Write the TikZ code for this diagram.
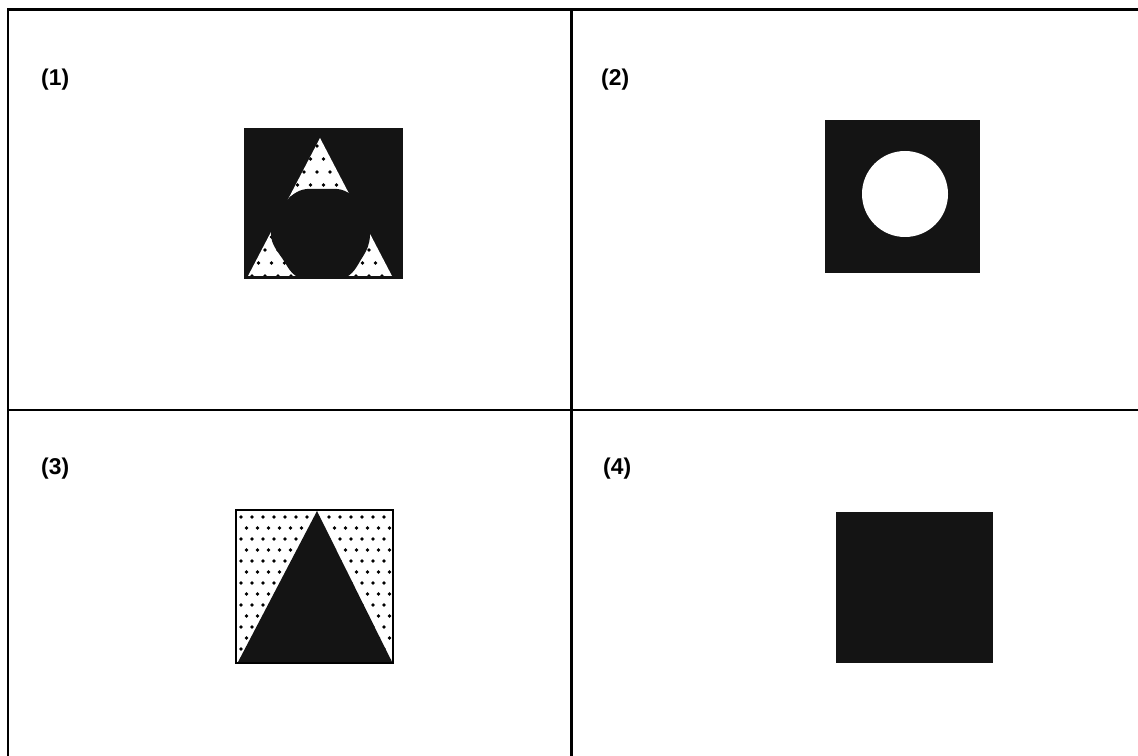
\documentclass[tikz,border=0pt]{standalone}
\usepackage{fontspec}
\setmainfont{Liberation Sans}
% staggered dots over a box: x0, y0, columns, rows, spacing
\newcommand{\dotfield}[5]{%
  \foreach \j in {0,...,#4}
    \foreach \i in {0,...,#3}
      \fill ({#1+#5*\i+#5/2*mod(\j,2)},{#2+#5*\j}) circle[radius=1.9];}
\begin{document}
\begin{tikzpicture}[x=0.02cm,y=-0.02cm,
    frame/.style={line width=1.7pt,line cap=rect},
    lab/.style={font=\bfseries\fontsize{13}{15}\selectfont,anchor=west},
    ink/.style={fill=black!92}]
  \useasboundingbox (0,0) rectangle (1138,756);
  % grid
  \draw[frame] (8,756) -- (8,10) -- (1138,10);
  \draw[frame] (571,10) -- (571,756);
  \draw[frame] (8,410) -- (1138,410);
  % labels
  \node[lab] (lab1) at (35,80) {(1)};
  \node[lab] (lab2) at (595,80) {(2)};
  \node[lab] (lab3) at (35,469) {(3)};
  \node[lab] (lab4) at (597,469) {(4)};
  % (1) square, dotted triangle, round blot on top
  \fill[ink] (244,128) rectangle (403,279);
  \fill[white] (320,138) -- (248,276) -- (392,276) -- cycle;
  \begin{scope}
    \clip (320,138) -- (248,276) -- (392,276) -- cycle;
    \dotfield{252}{146}{11}{10}{13}
  \end{scope}
  \begin{scope}
    \clip (244,128) rectangle (403,276);
    \fill[ink] plot[smooth cycle,tension=0.7] coordinates {(322,189) (347,192)
      (364,212) (370,235) (362,258) (342,279) (302,279) (282,258) (271,235)
      (279,212) (297,192)};
  \end{scope}
  % (2) square with hole
  \fill[ink] (825,120) rectangle (980,273);
  \fill[white] (905,194) circle[radius=43];
  % (3) dotted square, black triangle
  \begin{scope}
    \clip (236,510) rectangle (393,663);
    \dotfield{241}{517}{14}{14}{11}
  \end{scope}
  \draw[line width=1.5pt] (236,510) rectangle (393,663);
  \fill[ink] (317,511) -- (238,662) -- (392,662) -- cycle;
  % (4) plain square
  \fill[ink] (836,512) rectangle (993,663);
\end{tikzpicture}
\end{document}
